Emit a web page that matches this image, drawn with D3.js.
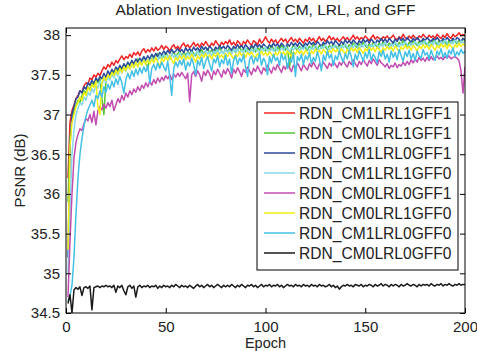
<!DOCTYPE html>
<html>
<head>
<meta charset="utf-8">
<script src="https://cdn.jsdelivr.net/npm/d3@7"></script>
<style>
  body { margin: 0; background: #fff; }
  svg { display: block; font-family: "Liberation Sans", Arial, sans-serif; }
</style>
</head>
<body>
<div id="chart"></div>
<script>
// epochs 1..200
const epochs = d3.range(1, 201);

const seriesNames = [
  "RDN_CM1LRL1GFF1", "RDN_CM0LRL1GFF1", "RDN_CM1LRL0GFF1", "RDN_CM1LRL1GFF0",
  "RDN_CM0LRL0GFF1", "RDN_CM0LRL1GFF0", "RDN_CM1LRL0GFF0", "RDN_CM0LRL0GFF0"
];
const seriesColors = ["#f02424", "#52c832", "#2b4a9c", "#86d9ec", "#c24cb0", "#f2ee12", "#44c0e6", "#1a1a1a"];

const xTicks = [0, 50, 100, 150, 200];
const yTicks = [34.5, 35, 35.5, 36, 36.5, 37, 37.5, 38];

const cm1lrl1gff1 = [
  36.20,36.90,37.05,37.12,37.20,37.24,37.30,37.28,37.36,37.40,37.38,37.46,37.44,37.50,37.47,37.52,37.49,37.55,37.60,37.57,
  37.63,37.60,37.66,37.62,37.68,37.65,37.70,37.74,37.69,37.73,37.71,37.76,37.72,37.78,37.75,37.79,37.74,37.80,37.83,37.78,
  37.82,37.79,37.84,37.80,37.85,37.81,37.83,37.87,37.82,37.86,37.84,37.80,37.85,37.88,37.83,37.86,37.82,37.87,37.90,37.85,
  37.88,37.84,37.87,37.91,37.86,37.89,37.85,37.90,37.87,37.92,37.88,37.85,37.90,37.87,37.93,37.89,37.86,37.91,37.88,37.92,
  37.89,37.94,37.88,37.91,37.87,37.93,37.90,37.86,37.92,37.89,37.94,37.90,37.87,37.93,37.91,37.88,37.95,37.90,37.93,37.98,
  37.93,37.90,37.95,37.91,37.94,37.89,37.93,37.96,37.92,37.95,37.90,37.94,37.97,37.92,37.95,37.91,37.96,37.93,37.90,37.95,
  37.92,37.97,37.93,37.96,37.91,37.94,37.98,37.93,37.96,37.92,37.95,37.99,37.94,37.97,37.93,37.96,37.92,37.95,37.98,37.94,
  37.97,37.93,37.96,38.00,37.95,37.98,37.94,37.97,37.95,37.99,37.96,37.93,37.97,38.00,37.95,37.98,37.96,37.94,37.98,37.96,
  37.99,37.95,37.97,38.00,37.96,37.94,37.98,37.96,38.01,37.97,37.95,37.99,37.96,38.00,37.97,37.95,37.99,37.97,38.01,37.98,
  37.96,38.00,37.97,37.99,37.96,38.01,37.98,37.96,38.00,37.97,38.02,37.98,37.96,38.01,37.98,38.00,38.03,37.99,38.01,37.99
];
const cm0lrl1gff1 = [
  35.90,36.70,36.95,37.05,37.12,37.18,37.15,37.24,37.30,37.27,37.35,37.31,37.40,37.36,37.44,37.40,37.47,37.20,37.00,37.42,
  37.50,37.46,37.55,37.51,37.58,37.54,37.60,37.56,37.63,37.59,37.65,37.61,37.68,37.63,37.66,37.70,37.64,37.69,37.72,37.67,
  37.58,37.71,37.74,37.69,37.73,37.77,37.71,37.75,37.72,37.78,37.74,37.70,37.76,37.79,37.73,37.77,37.80,37.74,37.78,37.75,
  37.79,37.76,37.81,37.77,37.74,37.80,37.78,37.82,37.76,37.80,37.83,37.78,37.81,37.77,37.82,37.79,37.84,37.80,37.77,37.82,
  37.79,37.84,37.80,37.83,37.78,37.82,37.85,37.80,37.83,37.79,37.84,37.81,37.86,37.82,37.79,37.84,37.81,37.86,37.83,37.80,
  37.85,37.82,37.87,37.83,37.80,37.85,37.82,37.87,37.84,37.81,37.86,37.58,37.83,37.87,37.84,37.81,37.86,37.83,37.88,37.84,
  37.81,37.86,37.83,37.88,37.85,37.82,37.87,37.84,37.89,37.85,37.82,37.87,37.84,37.89,37.86,37.83,37.88,37.85,37.90,37.86,
  37.83,37.88,37.85,37.90,37.87,37.84,37.89,37.86,37.91,37.87,37.84,37.89,37.86,37.91,37.88,37.85,37.90,37.87,37.92,37.88,
  37.85,37.90,37.87,37.92,37.89,37.86,37.91,37.88,37.93,37.89,37.86,37.91,37.88,37.93,37.90,37.87,37.92,37.89,37.94,37.90,
  37.87,37.92,37.89,37.94,37.91,37.88,37.93,37.90,37.95,37.91,37.88,37.93,37.90,37.95,37.92,37.89,37.94,37.91,37.96,37.92
];
const cm1lrl0gff1 = [
  35.20,36.60,37.00,37.10,37.20,37.22,37.30,37.27,37.35,37.32,37.40,37.37,37.43,37.39,37.46,37.42,37.48,37.45,37.52,37.47,
  37.55,37.50,37.57,37.53,37.60,37.56,37.62,37.58,37.64,37.60,37.66,37.62,37.68,37.64,37.70,37.66,37.71,37.67,37.73,37.69,
  37.74,37.70,37.76,37.72,37.77,37.73,37.78,37.75,37.80,37.76,37.81,37.77,37.82,37.78,37.80,37.83,37.79,37.82,37.78,37.84,
  37.80,37.83,37.79,37.85,37.81,37.84,37.80,37.86,37.82,37.85,37.81,37.86,37.83,37.80,37.85,37.82,37.87,37.83,37.86,37.82,
  37.87,37.84,37.81,37.86,37.83,37.88,37.84,37.87,37.83,37.88,37.85,37.82,37.87,37.84,37.89,37.85,37.88,37.84,37.89,37.86,
  37.83,37.88,37.85,37.90,37.86,37.89,37.85,37.90,37.87,37.84,37.89,37.86,37.91,37.87,37.90,37.86,37.91,37.88,37.85,37.90,
  37.87,37.92,37.88,37.91,37.87,37.92,37.89,37.86,37.91,37.88,37.93,37.89,37.92,37.88,37.93,37.90,37.87,37.92,37.89,37.94,
  37.90,37.93,37.89,37.94,37.91,37.88,37.93,37.90,37.95,37.91,37.94,37.90,37.95,37.92,37.89,37.94,37.91,37.96,37.92,37.95,
  37.91,37.96,37.93,37.90,37.95,37.92,37.97,37.93,37.96,37.92,37.97,37.94,37.91,37.96,37.93,37.97,37.94,37.91,37.96,37.93,
  37.97,37.94,37.92,37.96,37.93,37.97,37.94,37.91,37.96,37.93,37.97,37.94,37.92,37.96,37.93,37.97,37.95,37.92,37.96,37.94
];
const cm1lrl1gff0 = [
  35.00,35.80,36.50,36.80,37.00,37.08,37.15,37.12,37.22,37.18,37.28,37.24,37.33,37.28,37.38,37.33,37.42,37.37,37.45,37.40,
  37.48,37.43,37.51,37.46,37.54,37.48,37.57,37.52,37.60,37.54,37.62,37.57,37.64,37.59,37.66,37.61,37.68,37.63,37.69,37.64,
  37.70,37.65,37.72,37.67,37.73,37.68,37.75,37.70,37.76,37.71,37.74,37.69,37.77,37.72,37.75,37.70,37.78,37.73,37.76,37.71,
  37.78,37.74,37.79,37.73,37.77,37.80,37.74,37.78,37.75,37.81,37.76,37.79,37.74,37.80,37.77,37.82,37.76,37.80,37.77,37.82,
  37.78,37.81,37.76,37.82,37.79,37.83,37.77,37.81,37.78,37.84,37.80,37.77,37.82,37.79,37.84,37.80,37.78,37.83,37.80,37.85,
  37.81,37.78,37.83,37.80,37.85,37.81,37.79,37.84,37.81,37.86,37.82,37.79,37.84,37.81,37.86,37.83,37.80,37.85,37.82,37.87,
  37.83,37.80,37.85,37.82,37.87,37.84,37.81,37.86,37.83,37.88,37.84,37.81,37.86,37.83,37.88,37.85,37.82,37.87,37.84,37.89,
  37.85,37.82,37.87,37.84,37.89,37.86,37.83,37.88,37.85,37.90,37.86,37.83,37.88,37.85,37.90,37.87,37.84,37.89,37.86,37.91,
  37.87,37.84,37.89,37.86,37.91,37.88,37.85,37.90,37.87,37.92,37.88,37.85,37.90,37.87,37.92,37.89,37.86,37.91,37.88,37.93,
  37.89,37.86,37.91,37.88,37.93,37.90,37.87,37.92,37.89,37.94,37.90,37.87,37.92,37.89,37.94,37.91,37.88,37.93,37.90,37.92
];
const cm0lrl0gff1 = [
  34.70,35.40,36.00,36.45,36.65,36.75,36.82,36.80,36.88,36.95,36.92,37.00,36.90,37.04,36.87,37.05,37.10,37.06,37.13,37.08,
  37.15,37.10,37.18,37.05,37.12,37.20,37.15,37.24,37.18,37.27,37.22,37.30,37.25,37.32,37.28,37.35,37.30,37.37,37.33,37.40,
  37.35,37.42,37.37,37.44,37.39,37.46,37.41,37.47,37.43,37.49,37.45,37.50,37.44,37.51,37.47,37.52,37.48,37.53,37.49,37.45,
  37.52,37.16,37.50,37.54,37.48,37.55,37.50,37.42,37.54,37.49,37.56,37.51,37.44,37.55,37.50,37.57,37.52,37.47,37.56,37.51,
  37.58,37.53,37.46,37.57,37.52,37.59,37.54,37.48,37.57,37.53,37.60,37.55,37.50,37.58,37.54,37.61,37.56,37.51,37.59,37.55,
  37.62,37.57,37.52,37.60,37.56,37.63,37.58,37.53,37.61,37.57,37.64,37.59,37.54,37.62,37.58,37.65,37.60,37.55,37.63,37.59,
  37.56,37.64,37.60,37.66,37.61,37.57,37.64,37.60,37.66,37.62,37.58,37.65,37.61,37.67,37.63,37.59,37.66,37.62,37.68,37.63,
  37.60,37.67,37.63,37.69,37.64,37.60,37.67,37.63,37.69,37.65,37.61,37.68,37.64,37.70,37.66,37.62,37.69,37.65,37.63,37.60,
  37.64,37.58,37.62,37.60,37.65,37.59,37.63,37.61,37.66,37.62,37.67,37.63,37.69,37.65,37.70,37.66,37.72,37.68,37.71,37.67,
  37.72,37.68,37.73,37.69,37.71,37.74,37.70,37.72,37.69,37.73,37.71,37.74,37.70,37.72,37.73,37.71,37.68,37.55,37.27,37.60
];
const cm0lrl1gff0 = [
  35.30,36.60,36.90,37.00,37.10,37.15,37.22,37.18,37.28,37.24,37.34,37.30,37.38,37.34,37.42,37.10,37.00,37.40,37.47,37.43,
  37.50,37.46,37.53,37.49,37.56,37.51,37.58,37.53,37.60,37.55,37.62,37.57,37.64,37.59,37.66,37.60,37.67,37.62,37.68,37.63,
  37.69,37.64,37.70,37.65,37.72,37.66,37.60,37.71,37.67,37.73,37.68,37.74,37.69,37.64,37.72,37.68,37.74,37.70,37.75,37.69,
  37.73,37.70,37.76,37.71,37.66,37.74,37.70,37.76,37.72,37.77,37.71,37.75,37.70,37.76,37.73,37.78,37.72,37.75,37.71,37.77,
  37.73,37.78,37.74,37.70,37.76,37.73,37.79,37.74,37.77,37.72,37.78,37.75,37.79,37.74,37.71,37.77,37.74,37.80,37.75,37.78,
  37.74,37.79,37.76,37.72,37.78,37.75,37.80,37.76,37.79,37.74,37.80,37.77,37.73,37.79,37.76,37.81,37.77,37.80,37.75,37.81,
  37.78,37.74,37.80,37.77,37.82,37.78,37.81,37.76,37.82,37.79,37.75,37.81,37.78,37.83,37.79,37.82,37.77,37.83,37.80,37.76,
  37.82,37.79,37.84,37.80,37.83,37.78,37.84,37.81,37.77,37.83,37.80,37.85,37.81,37.84,37.79,37.85,37.82,37.78,37.84,37.81,
  37.86,37.82,37.85,37.80,37.86,37.83,37.79,37.85,37.82,37.87,37.83,37.86,37.81,37.87,37.84,37.80,37.86,37.83,37.88,37.84,
  37.87,37.82,37.88,37.85,37.81,37.87,37.84,37.89,37.85,37.88,37.83,37.89,37.86,37.82,37.88,37.85,37.90,37.86,37.89,37.87
];
const cm1lrl0gff0 = [
  34.65,34.72,34.85,35.20,35.75,36.20,36.50,36.70,36.85,36.98,37.06,37.12,37.18,37.10,37.24,37.20,37.30,37.22,37.35,37.28,
  37.38,37.32,37.42,37.35,37.45,37.38,37.48,37.40,37.27,37.44,37.52,37.45,37.55,37.48,37.57,37.50,37.59,37.52,37.60,37.54,
  37.62,37.40,37.58,37.63,37.56,37.65,37.58,37.66,37.60,37.55,37.67,37.48,37.24,37.58,37.66,37.60,37.68,37.62,37.70,37.56,
  37.66,37.61,37.71,37.63,37.50,37.68,37.62,37.72,37.58,37.67,37.73,37.63,37.55,37.70,37.65,37.74,37.60,37.69,37.64,37.75,
  37.62,37.70,37.52,37.68,37.74,37.63,37.71,37.66,37.76,37.60,37.48,37.69,37.74,37.64,37.72,37.67,37.77,37.62,37.71,37.66,
  37.50,37.73,37.65,37.76,37.68,37.72,37.62,37.77,37.69,37.74,37.58,37.71,37.66,37.78,37.48,37.73,37.68,37.76,37.63,37.74,
  37.69,37.78,37.64,37.72,37.67,37.79,37.70,37.55,37.75,37.68,37.80,37.71,37.76,37.62,37.74,37.69,37.80,37.72,37.66,37.77,
  37.70,37.81,37.73,37.60,37.76,37.69,37.80,37.74,37.67,37.78,37.71,37.82,37.68,37.76,37.72,37.65,37.79,37.73,37.81,37.70,
  37.76,37.66,37.80,37.72,37.78,37.69,37.82,37.74,37.67,37.79,37.73,37.81,37.70,37.77,37.68,37.80,37.74,37.71,37.82,37.75,
  37.78,37.70,37.81,37.74,37.68,37.80,37.75,37.83,37.72,37.78,37.71,37.81,37.76,37.84,37.73,37.79,37.75,37.82,37.77,37.80
];
const cm0lrl0gff0 = [
  34.62,34.73,34.50,34.79,34.82,34.80,34.83,34.72,34.82,34.83,34.81,34.84,34.54,34.82,34.83,34.84,34.82,34.84,34.83,34.85,
  34.83,34.84,34.82,34.85,34.76,34.84,34.82,34.85,34.78,34.73,34.83,34.85,34.81,34.84,34.70,34.83,34.85,34.82,34.84,34.83,
  34.85,34.82,34.84,34.83,34.85,34.81,34.84,34.82,34.85,34.83,34.84,34.82,34.85,34.83,34.86,34.84,34.82,34.85,34.83,34.84,
  34.82,34.85,34.83,34.81,34.84,34.86,34.83,34.85,34.82,34.84,34.86,34.83,34.85,34.82,34.84,34.86,34.84,34.82,34.85,34.83,
  34.85,34.83,34.86,34.84,34.82,34.85,34.83,34.86,34.84,34.82,34.85,34.84,34.86,34.83,34.85,34.82,34.84,34.86,34.83,34.85,
  34.84,34.86,34.83,34.85,34.84,34.86,34.83,34.85,34.82,34.84,34.86,34.84,34.85,34.83,34.86,34.84,34.85,34.83,34.86,34.84,
  34.85,34.83,34.86,34.84,34.85,34.83,34.86,34.84,34.85,34.83,34.84,34.86,34.83,34.85,34.82,34.84,34.80,34.83,34.85,34.84,
  34.86,34.84,34.85,34.83,34.86,34.85,34.84,34.86,34.83,34.85,34.84,34.86,34.85,34.83,34.86,34.84,34.85,34.87,34.84,34.86,
  34.85,34.83,34.86,34.84,34.86,34.85,34.83,34.86,34.84,34.85,34.87,34.85,34.84,34.86,34.85,34.83,34.86,34.84,34.86,34.85,
  34.86,34.84,34.87,34.85,34.84,34.86,34.85,34.87,34.84,34.86,34.85,34.87,34.85,34.84,34.86,34.85,34.87,34.85,34.86,34.86
];

const seriesValues = [cm1lrl1gff1, cm0lrl1gff1, cm1lrl0gff1, cm1lrl1gff0, cm0lrl0gff1, cm0lrl1gff0, cm1lrl0gff0, cm0lrl0gff0];

const W = 477, H = 351;
const margin = { top: 28, right: 12, bottom: 38, left: 66 };
const plotL = margin.left, plotR = W - margin.right, plotT = margin.top, plotB = H - margin.bottom;

const svg = d3.select('#chart').append('svg').attr('width', W).attr('height', H);

const x = d3.scaleLinear().domain([0, 200]).range([plotL, plotR]);
const y = d3.scaleLinear().domain([34.5, 38.09]).range([plotB, plotT]);

svg.append('defs').append('clipPath').attr('id', 'clip')
  .append('rect').attr('x', plotL).attr('y', plotT).attr('width', plotR - plotL).attr('height', plotB - plotT);

const line = d3.line().x((d, i) => x(epochs[i])).y(d => y(d));

svg.append('g').attr('clip-path', 'url(#clip)')
  .selectAll('path').data(seriesValues).enter().append('path')
  .attr('d', d => line(d))
  .attr('fill', 'none')
  .attr('stroke', (d, i) => seriesColors[i])
  .attr('stroke-width', 1.5)
  .attr('stroke-linejoin', 'round');

// axes, MATLAB style: inward ticks on all four sides
const fmt = d => String(d);
const axStyle = g => {
  g.select('.domain').remove();
  g.selectAll('.tick line').attr('stroke', '#000');
  g.selectAll('.tick text').attr('fill', '#222').style('font-size', '15px');
};

svg.append('g').attr('transform', `translate(0,${plotB})`)
  .call(d3.axisBottom(x).tickValues(xTicks).tickFormat(fmt).tickSize(-5).tickPadding(8))
  .call(axStyle);
svg.append('g').attr('transform', `translate(0,${plotT})`)
  .call(d3.axisTop(x).tickValues(xTicks).tickFormat('').tickSize(-5))
  .call(axStyle);
svg.append('g').attr('transform', `translate(${plotL},0)`)
  .call(d3.axisLeft(y).tickValues(yTicks).tickFormat(fmt).tickSize(-5).tickPadding(6))
  .call(axStyle);
svg.append('g').attr('transform', `translate(${plotR},0)`)
  .call(d3.axisRight(y).tickValues(yTicks).tickFormat('').tickSize(-5))
  .call(axStyle);

svg.append('rect').attr('x', plotL).attr('y', plotT).attr('width', plotR - plotL).attr('height', plotB - plotT)
  .attr('fill', 'none').attr('stroke', '#000').attr('stroke-width', 1);

// title and axis labels
svg.append('text').attr('x', 265.5).attr('y', 15).attr('text-anchor', 'middle')
  .style('font-size', '15.5px').attr('fill', '#222').text('Ablation Investigation of CM, LRL, and GFF');
svg.append('text').attr('x', (plotL + plotR) / 2).attr('y', 348).attr('text-anchor', 'middle')
  .style('font-size', '14.5px').attr('fill', '#222').text('Epoch');
svg.append('text').attr('transform', `translate(25,${(plotT + plotB) / 2}) rotate(-90)`).attr('text-anchor', 'middle')
  .style('font-size', '15px').attr('fill', '#222').text('PSNR (dB)');

// legend
const lg = svg.append('g');
lg.append('rect').attr('x', 257).attr('y', 102).attr('width', 201).attr('height', 168)
  .attr('fill', '#fff').attr('stroke', '#000').attr('stroke-width', 1);
const items = lg.selectAll('g.item').data(seriesNames).enter().append('g')
  .attr('transform', (d, i) => `translate(0,${113 + i * 20})`);
items.append('line').attr('x1', 264).attr('x2', 295).attr('y1', 0).attr('y2', 0)
  .attr('stroke', (d, i) => seriesColors[i]).attr('stroke-width', 1.5);
items.append('text').attr('x', 299).attr('y', 5.5).style('font-size', '15.6px').attr('fill', '#222').text(d => d);
</script>
</body>
</html>
